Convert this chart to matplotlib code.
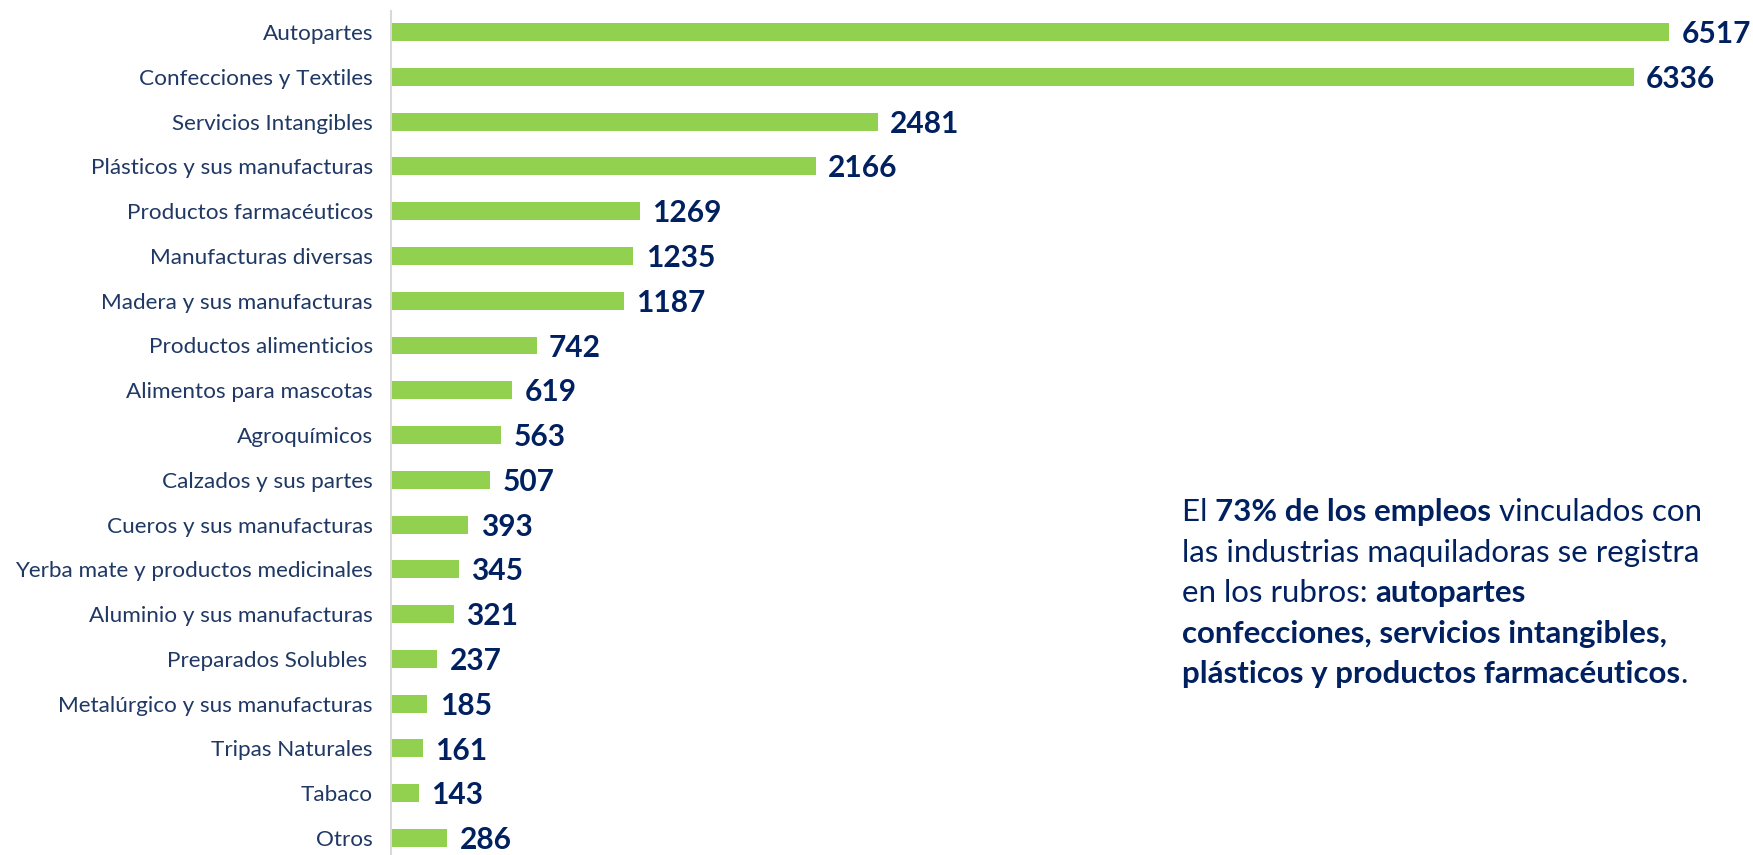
import matplotlib
matplotlib.use("Agg")
import matplotlib.pyplot as plt

categories = ["Autopartes", "Confecciones y Textiles", "Servicios Intangibles",
              "Plásticos y sus manufacturas", "Productos farmacéuticos",
              "Manufacturas diversas", "Madera y sus manufacturas",
              "Productos alimenticios", "Alimentos para mascotas", "Agroquímicos",
              "Calzados y sus partes", "Cueros y sus manufacturas",
              "Yerba mate y productos medicinales", "Aluminio y sus manufacturas",
              "Preparados Solubles ", "Metalúrgico y sus manufacturas",
              "Tripas Naturales", "Tabaco", "Otros"]
values = [6517, 6336, 2481, 2166, 1269, 1235, 1187, 742, 619, 563, 507, 393,
          345, 321, 237, 185, 161, 143, 286]

note_lines = [
    [("El ", "normal"), ("73% de los empleos", "bold"), (" vinculados con", "normal")],
    [("las industrias maquiladoras se registra", "normal")],
    [("en los rubros: ", "normal"), ("autopartes", "bold")],
    [("confecciones, servicios intangibles,", "bold")],
    [("plásticos y productos farmacéuticos", "bold"), (".", "normal")],
]

GREEN = "#92D050"
NAVY = "#002060"
LABEL = "#1F3864"
FONT = "Lato"

W, H = 1753, 855
fig = plt.figure(figsize=(W / 100, H / 100), dpi=100)
ax = fig.add_axes([391 / W, 0.0, (1669 - 391) / W, 844 / H])

n = len(categories)
ypos = list(range(n))
ax.barh(ypos, values, height=0.4, color=GREEN)
ax.set_xlim(0, max(values))
ax.set_ylim(n - 1 + 0.38, -0.47)
ax.set_yticks(ypos)
ax.set_yticklabels(categories, fontsize=16.2, color=LABEL, family=FONT)
ax.tick_params(axis="y", length=0, pad=13)
ax.set_xticks([])
for s in ["top", "right", "bottom"]:
    ax.spines[s].set_visible(False)
ax.spines["left"].set_color("#D9D9D9")
ax.spines["left"].set_linewidth(1.5)

for y, v in zip(ypos, values):
    ax.annotate(f"{v}", xy=(v, y), xytext=(9, -1.5), textcoords="offset points",
                va="center", ha="left", fontsize=21.5, fontweight="bold",
                color=NAVY, family=FONT, annotation_clip=False)

x0 = 1182 / W
for i, line in enumerate(note_lines):
    ybot = 1 - (526 + i * 40.5) / H
    prev = None
    for txt, wt in line:
        if prev is None:
            prev = fig.text(x0, ybot, txt, fontsize=22.5, fontweight=wt,
                            color=NAVY, family=FONT, va="bottom", ha="left")
        else:
            prev = ax.annotate(txt, xy=(1, 0), xycoords=prev, va="bottom",
                               ha="left", fontsize=22.5, fontweight=wt,
                               color=NAVY, family=FONT, annotation_clip=False)

fig.savefig("out.png", dpi=100, facecolor="white")
